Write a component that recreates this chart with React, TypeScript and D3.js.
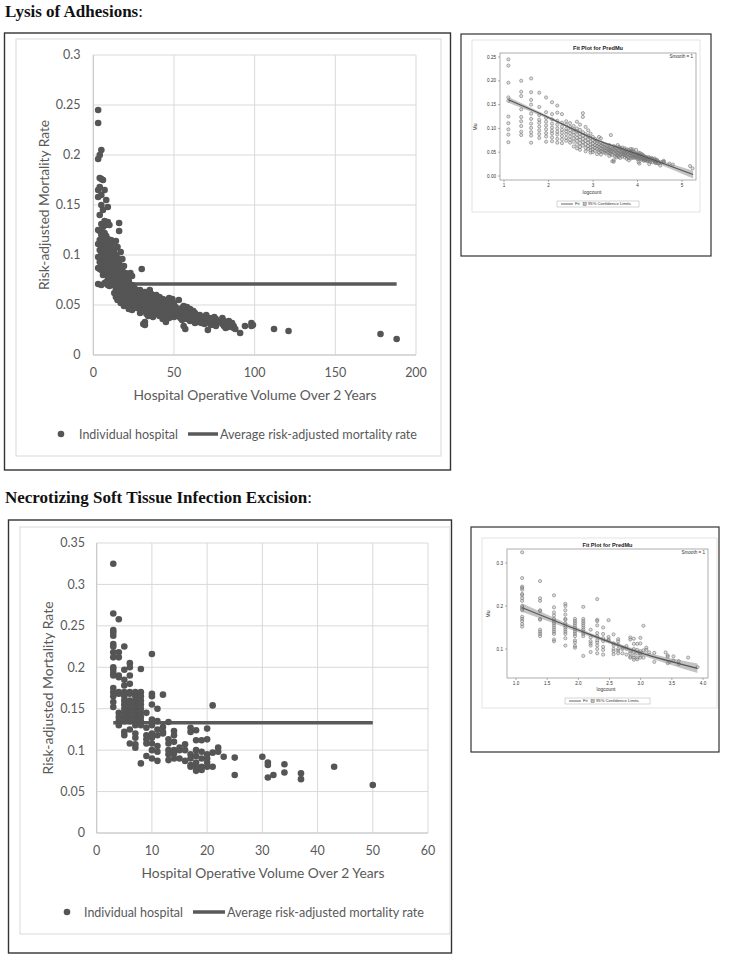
import React from 'react';
import * as d3 from 'd3';

// ---------- DATA ----------
// Lysis of Adhesions: [hospital volume, risk-adjusted mortality rates]
const lysisPoints: [number, number[]][] = [
  [3, [0.245, 0.232, 0.196, 0.165, 0.158, 0.125, 0.111, 0.098, 0.087, 0.071]],
  [4, [0.2, 0.177, 0.168, 0.14, 0.124, 0.115, 0.105, 0.093, 0.086]],
  [5, [0.205, 0.176, 0.16, 0.15, 0.131, 0.12, 0.11, 0.101, 0.092, 0.085, 0.07]],
  [6, [0.175, 0.145, 0.128, 0.118, 0.112, 0.104, 0.096, 0.088, 0.08]],
  [7, [0.165, 0.134, 0.122, 0.114, 0.106, 0.098, 0.09, 0.083, 0.072]],
  [8, [0.155, 0.13, 0.119, 0.11, 0.102, 0.095, 0.089, 0.081, 0.073]],
  [9, [0.148, 0.133, 0.116, 0.108, 0.1, 0.093, 0.087, 0.078, 0.07]],
  [10, [0.13, 0.112, 0.104, 0.097, 0.091, 0.084, 0.077, 0.069]],
  [11, [0.115, 0.108, 0.099, 0.094, 0.088, 0.08, 0.074]],
  [12, [0.111, 0.103, 0.096, 0.09, 0.083, 0.076, 0.07]],
  [13, [0.105, 0.098, 0.092, 0.086, 0.079, 0.072, 0.062]],
  [14, [0.114, 0.1, 0.094, 0.087, 0.08, 0.074, 0.066, 0.058]],
  [15, [0.108, 0.097, 0.089, 0.082, 0.076, 0.069, 0.061, 0.055]],
  [16, [0.132, 0.124, 0.092, 0.085, 0.078, 0.071, 0.064]],
  [17, [0.103, 0.088, 0.081, 0.074, 0.067, 0.059, 0.052]],
  [18, [0.096, 0.084, 0.077, 0.07, 0.063, 0.057]],
  [19, [0.089, 0.08, 0.073, 0.066, 0.06, 0.054, 0.049]],
  [20, [0.082, 0.075, 0.068, 0.062, 0.056, 0.05]],
  [21, [0.078, 0.072, 0.065, 0.059, 0.053]],
  [22, [0.074, 0.069, 0.063, 0.057, 0.046]],
  [23, [0.082, 0.067, 0.061, 0.055, 0.05]],
  [24, [0.079, 0.07, 0.064, 0.058, 0.052, 0.045]],
  [25, [0.068, 0.062, 0.057, 0.051]],
  [26, [0.066, 0.06, 0.054, 0.049]],
  [27, [0.064, 0.058, 0.053, 0.047]],
  [28, [0.062, 0.056, 0.05]],
  [29, [0.065, 0.059, 0.054, 0.048, 0.042]],
  [30, [0.086, 0.061, 0.055, 0.051, 0.046]],
  [31, [0.058, 0.052, 0.044, 0.031]],
  [32, [0.063, 0.056, 0.05, 0.033, 0.03]],
  [33, [0.06, 0.054, 0.047, 0.041]],
  [34, [0.058, 0.052, 0.045, 0.039]],
  [35, [0.065, 0.055, 0.049, 0.043]],
  [36, [0.061, 0.053, 0.047, 0.04]],
  [37, [0.059, 0.051, 0.044, 0.038]],
  [38, [0.057, 0.05, 0.046]],
  [39, [0.06, 0.053, 0.047, 0.041]],
  [40, [0.055, 0.049, 0.044]],
  [41, [0.058, 0.051, 0.045, 0.039]],
  [42, [0.054, 0.048, 0.043]],
  [43, [0.056, 0.05, 0.042, 0.036]],
  [44, [0.052, 0.046, 0.04]],
  [45, [0.055, 0.048, 0.038, 0.033]],
  [46, [0.051, 0.045]],
  [47, [0.057, 0.049, 0.043, 0.037]],
  [48, [0.053, 0.047, 0.041]],
  [49, [0.056, 0.05, 0.044, 0.039]],
  [50, [0.052, 0.045, 0.038]],
  [51, [0.048, 0.041]],
  [52, [0.044, 0.039]],
  [53, [0.055, 0.046, 0.04]],
  [54, [0.043, 0.037]],
  [55, [0.047, 0.041, 0.035]],
  [56, [0.049, 0.044, 0.038, 0.029]],
  [57, [0.045, 0.04, 0.026]],
  [58, [0.048, 0.042, 0.036]],
  [59, [0.043, 0.037]],
  [60, [0.046, 0.04, 0.034]],
  [61, [0.041, 0.036]],
  [62, [0.044, 0.038]],
  [63, [0.042, 0.035, 0.032]],
  [64, [0.039, 0.034]],
  [65, [0.037, 0.033]],
  [66, [0.04, 0.035]],
  [67, [0.036, 0.032]],
  [68, [0.038, 0.034]],
  [69, [0.035, 0.031]],
  [70, [0.04, 0.036]],
  [71, [0.034, 0.025]],
  [72, [0.037, 0.032]],
  [73, [0.035, 0.03]],
  [75, [0.038, 0.034]],
  [76, [0.036, 0.029]],
  [78, [0.033]],
  [80, [0.037, 0.031]],
  [81, [0.034, 0.029]],
  [82, [0.033, 0.027]],
  [83, [0.031]],
  [84, [0.034, 0.028]],
  [86, [0.032]],
  [87, [0.029, 0.027]],
  [88, [0.026]],
  [91, [0.022]],
  [94, [0.029]],
  [98, [0.032, 0.029]],
  [99, [0.03]],
  [112, [0.026]],
  [121, [0.024]],
  [178, [0.021]],
  [188, [0.016]],
];
const lysisAverage = 0.071;
const lysisAverageSpan = [3, 188];
const lysisXTicks = [0, 50, 100, 150, 200];
const lysisYTicks = [0, 0.05, 0.1, 0.15, 0.2, 0.25, 0.3];

// Necrotizing Soft Tissue Infection Excision
const nstiPoints: [number, number[]][] = [
  [3, [0.325, 0.265, 0.245, 0.242, 0.238, 0.228, 0.225, 0.218, 0.212, 0.2, 0.197, 0.193, 0.19, 0.175, 0.17, 0.165, 0.158, 0.152]],
  [4, [0.258, 0.218, 0.212, 0.19, 0.188, 0.17, 0.168, 0.145, 0.14, 0.135, 0.13]],
  [5, [0.225, 0.197, 0.185, 0.178, 0.17, 0.165, 0.16, 0.155, 0.15, 0.145, 0.14, 0.135, 0.122, 0.118]],
  [6, [0.205, 0.2, 0.19, 0.18, 0.17, 0.168, 0.16, 0.155, 0.15, 0.145, 0.14, 0.135, 0.125, 0.108]],
  [7, [0.17, 0.165, 0.16, 0.155, 0.15, 0.145, 0.14, 0.135, 0.13, 0.12, 0.115, 0.107, 0.103]],
  [8, [0.198, 0.17, 0.165, 0.16, 0.155, 0.15, 0.145, 0.14, 0.135, 0.13, 0.084]],
  [9, [0.145, 0.127, 0.118, 0.113, 0.108, 0.093]],
  [10, [0.216, 0.168, 0.165, 0.155, 0.137, 0.13, 0.12, 0.115, 0.108, 0.1, 0.09]],
  [11, [0.15, 0.135, 0.125, 0.118, 0.105, 0.098, 0.087]],
  [12, [0.167, 0.128, 0.122, 0.12]],
  [13, [0.134, 0.113, 0.108, 0.1, 0.095, 0.088]],
  [14, [0.123, 0.118, 0.11, 0.1, 0.096, 0.09]],
  [15, [0.103, 0.1, 0.09]],
  [16, [0.107, 0.1, 0.087]],
  [17, [0.127, 0.122, 0.095, 0.09, 0.082, 0.08]],
  [18, [0.124, 0.112, 0.1, 0.093, 0.085, 0.08, 0.075]],
  [19, [0.112, 0.098, 0.09, 0.08, 0.076]],
  [20, [0.126, 0.113, 0.095, 0.09, 0.085, 0.08]],
  [21, [0.154, 0.097, 0.08]],
  [22, [0.103, 0.098]],
  [23, [0.092]],
  [25, [0.091, 0.07]],
  [30, [0.092]],
  [31, [0.085, 0.082, 0.067]],
  [32, [0.07]],
  [34, [0.083, 0.073]],
  [37, [0.072, 0.065]],
  [43, [0.08]],
  [50, [0.058]],
];
const nstiAverage = 0.133;
const nstiAverageSpan = [3, 50];
const nstiXTicks = [0, 10, 20, 30, 40, 50, 60];
const nstiYTicks = [0, 0.05, 0.1, 0.15, 0.2, 0.25, 0.3, 0.35];

// Inset fit plots (x = log of volume): [logcount, fit, half-width of 95% band]
const lysisFit: [number, number, number][] = [
  [1.1, 0.16, 0.006], [2, 0.123, 0.003], [3, 0.079, 0.002], [4, 0.046, 0.003], [5.25, 0.003, 0.008],
];
const lysisInsetXTicks = [1, 2, 3, 4, 5];
const lysisInsetYTicks = [0, 0.05, 0.1, 0.15, 0.2, 0.25];
const nstiFit: [number, number, number][] = [
  [1.1, 0.196, 0.01], [2, 0.144, 0.005], [3, 0.091, 0.005], [3.91, 0.055, 0.011],
];
const nstiInsetXTicks = [1, 1.5, 2, 2.5, 3, 3.5, 4];
const nstiInsetYTicks = [0.1, 0.2, 0.3];

// ---------- COMPONENTS ----------
const FONT = 'Lato, "Open Sans", sans-serif';
const SERIF = '"Liberation Serif", "Times New Roman", serif';
const TXT = '#595959';

function flatten(points: [number, number[]][]) {
  return points.flatMap(([v, rs]) => rs.map((r) => ({ v, r })));
}

type MainProps = {
  points: [number, number[]][];
  avg: number;
  avgSpan: number[];
  xTicks: number[];
  yTicks: number[];
  plot: { l: number; r: number; t: number; b: number };
  yLabelRight: number;
  xLabelY: number;
  xTitle: [number, number];
  yTitle: [number, number, number];
  legend: { y: number; dot: number; t1: number; l1: number; l2: number; t2: number };
};

function MainChart(p: MainProps) {
  const x = d3.scaleLinear().domain([p.xTicks[0], p.xTicks[p.xTicks.length - 1]]).range([p.plot.l, p.plot.r]);
  const y = d3.scaleLinear().domain([p.yTicks[0], p.yTicks[p.yTicks.length - 1]]).range([p.plot.b, p.plot.t]);
  const data = flatten(p.points);
  const fmt = (d: number) => String(+d.toFixed(2));
  return (
    <g>
      {p.yTicks.map((t) => (
        <line key={'gy' + t} x1={p.plot.l} x2={p.plot.r} y1={y(t)} y2={y(t)} stroke="#d9d9d9" strokeWidth={1} />
      ))}
      {p.xTicks.map((t) => (
        <line key={'gx' + t} x1={x(t)} x2={x(t)} y1={p.plot.t} y2={p.plot.b} stroke="#d9d9d9" strokeWidth={1} />
      ))}
      <line x1={p.plot.l} x2={p.plot.r} y1={p.plot.b} y2={p.plot.b} stroke="#c6c6c6" strokeWidth={1} />
      <line x1={p.plot.l} x2={p.plot.l} y1={p.plot.t} y2={p.plot.b} stroke="#c6c6c6" strokeWidth={1} />
      {p.yTicks.map((t) => (
        <text key={'ly' + t} x={p.yLabelRight} y={y(t)} dy="0.35em" textAnchor="end" fontSize={12.5} fill={TXT} fontFamily={FONT}>
          {fmt(t)}
        </text>
      ))}
      {p.xTicks.map((t) => (
        <text key={'lx' + t} x={x(t)} y={p.xLabelY} dy="0.35em" textAnchor="middle" fontSize={12.5} fill={TXT} fontFamily={FONT}>
          {fmt(t)}
        </text>
      ))}
      <line x1={x(p.avgSpan[0])} x2={x(p.avgSpan[1])} y1={y(p.avg)} y2={y(p.avg)} stroke="#595959" strokeWidth={3.5} />
      {data.map((d, i) => (
        <circle key={i} cx={x(d.v)} cy={y(d.r)} r={3.3} fill="#555555" />
      ))}
      <text x={p.xTitle[0]} y={p.xTitle[1]} dy="0.35em" textAnchor="middle" fontSize={14} fill={TXT} fontFamily={FONT} textLength={243} lengthAdjust="spacingAndGlyphs">
        Hospital Operative Volume Over 2 Years
      </text>
      <text transform={`translate(${p.yTitle[0]},${p.yTitle[1]}) rotate(-90)`} dy="0.35em" textAnchor="middle" fontSize={14} fill={TXT} fontFamily={FONT} textLength={p.yTitle[2]} lengthAdjust="spacingAndGlyphs">
        Risk-adjusted Mortality Rate
      </text>
      <circle cx={p.legend.dot} cy={p.legend.y} r={3.3} fill="#555555" />
      <text x={p.legend.t1} y={p.legend.y} dy="0.35em" fontSize={13} fill={TXT} fontFamily={FONT} textLength={99} lengthAdjust="spacingAndGlyphs">
        Individual hospital
      </text>
      <line x1={p.legend.l1} x2={p.legend.l2} y1={p.legend.y} y2={p.legend.y} stroke="#595959" strokeWidth={3.5} />
      <text x={p.legend.t2} y={p.legend.y} dy="0.35em" fontSize={13} fill={TXT} fontFamily={FONT} textLength={197} lengthAdjust="spacingAndGlyphs">
        Average risk-adjusted mortality rate
      </text>
    </g>
  );
}

type InsetProps = {
  points: [number, number[]][];
  fit: [number, number, number][];
  xTicks: number[];
  yTicks: number[];
  xFmt: (d: number) => string;
  yFmt: (d: number) => string;
  plot: { l: number; r: number; t: number; b: number };
  xTickPx: [number, number];
  yTickPx: [number, number];
  titleY: number;
  xLabel: [number, number];
  yLabel: [number, number];
  legend: { x1: number; x2: number; y: number };
};

function Inset(p: InsetProps) {
  const x = d3.scaleLinear().domain([p.xTicks[0], p.xTicks[p.xTicks.length - 1]]).range(p.xTickPx);
  const y = d3.scaleLinear().domain([p.yTicks[0], p.yTicks[p.yTicks.length - 1]]).range(p.yTickPx);
  const data = flatten(p.points);
  const band = d3
    .area<[number, number, number]>()
    .x((d) => x(d[0]))
    .y0((d) => y(d[1] - d[2]))
    .y1((d) => y(d[1] + d[2]))
    .curve(d3.curveMonotoneX);
  const fitLine = d3
    .line<[number, number, number]>()
    .x((d) => x(d[0]))
    .y((d) => y(d[1]))
    .curve(d3.curveMonotoneX);
  const cx = (p.plot.l + p.plot.r) / 2;
  const fs = 4.6;
  return (
    <g fontFamily='"Liberation Sans", Arial, sans-serif'>
      <text x={cx} y={p.titleY} textAnchor="middle" fontSize={5.6} fontWeight="bold" fill="#222">
        Fit Plot for PredMu
      </text>
      <rect x={p.plot.l} y={p.plot.t} width={p.plot.r - p.plot.l} height={p.plot.b - p.plot.t} fill="white" stroke="#8a8a8a" strokeWidth={0.7} />
      <text x={p.plot.r - 3} y={p.plot.t + 5} textAnchor="end" fontSize={fs} fill="#333">
        Smooth = 1
      </text>
      <path d={band(p.fit) || ''} fill="#b8b8b8" opacity={0.85} />
      {data.map((d, i) => (
        <circle key={i} cx={x(Math.log(d.v))} cy={y(d.r)} r={1.6} fill="rgba(160,160,160,0.35)" stroke="#6e6e6e" strokeWidth={0.55} />
      ))}
      <path d={fitLine(p.fit) || ''} fill="none" stroke="#555" strokeWidth={1.1} />
      {p.xTicks.map((t) => (
        <g key={'x' + t}>
          <line x1={x(t)} x2={x(t)} y1={p.plot.b} y2={p.plot.b + 2} stroke="#666" strokeWidth={0.5} />
          <text x={x(t)} y={p.plot.b + 7} textAnchor="middle" fontSize={fs} fill="#333">
            {p.xFmt(t)}
          </text>
        </g>
      ))}
      {p.yTicks.map((t) => (
        <g key={'y' + t}>
          <line x1={p.plot.l - 2} x2={p.plot.l} y1={y(t)} y2={y(t)} stroke="#666" strokeWidth={0.5} />
          <text x={p.plot.l - 4} y={y(t)} dy="0.35em" textAnchor="end" fontSize={fs} fill="#333">
            {p.yFmt(t)}
          </text>
        </g>
      ))}
      <text x={p.xLabel[0]} y={p.xLabel[1]} textAnchor="middle" fontSize={5} fill="#333">
        logcount
      </text>
      <text transform={`translate(${p.yLabel[0]},${p.yLabel[1]}) rotate(-90)`} textAnchor="middle" fontSize={5} fill="#333">
        Mu
      </text>
      <rect x={p.legend.x1} y={p.legend.y - 3} width={p.legend.x2 - p.legend.x1} height={6} fill="white" stroke="#aaa" strokeWidth={0.5} />
      <line x1={p.legend.x1 + 4} x2={p.legend.x1 + 16} y1={p.legend.y} y2={p.legend.y} stroke="#555" strokeWidth={0.9} />
      <text x={p.legend.x1 + 18} y={p.legend.y} dy="0.35em" fontSize={4.2} fill="#333">
        Fit
      </text>
      <rect x={p.legend.x1 + 26} y={p.legend.y - 1.6} width={3.2} height={3.2} fill="#bbb" stroke="#666" strokeWidth={0.4} />
      <text x={p.legend.x1 + 31} y={p.legend.y} dy="0.35em" fontSize={4.2} fill="#333">
        95% Confidence Limits
      </text>
    </g>
  );
}

export default function App() {
  return (
    <svg width={729} height={960} style={{ position: 'absolute', left: 0, top: 0, background: 'white' }}>
      <rect x={0} y={0} width={729} height={960} fill="white" />
      {/* Section titles */}
      <text x={5} y={17} fontFamily={SERIF} fontSize={17} fill="#111">
        <tspan fontWeight="bold">Lysis of Adhesions</tspan>
        <tspan>:</tspan>
      </text>
      <text x={5} y={503} fontFamily={SERIF} fontSize={17} fill="#111">
        <tspan fontWeight="bold">Necrotizing Soft Tissue Infection Excision</tspan>
        <tspan>:</tspan>
      </text>

      {/* Top main chart */}
      <rect x={4.5} y={33} width={446} height={437} fill="white" stroke="#333" strokeWidth={1.4} />
      <rect x={16} y={39} width={425} height={417} fill="white" stroke="#d9d9d9" strokeWidth={1} />
      <MainChart
        points={lysisPoints}
        avg={lysisAverage}
        avgSpan={lysisAverageSpan}
        xTicks={lysisXTicks}
        yTicks={lysisYTicks}
        plot={{ l: 93.3, r: 416, t: 55, b: 355 }}
        yLabelRight={80.5}
        xLabelY={373}
        xTitle={[255, 395]}
        yTitle={[44, 205, 170]}
        legend={{ y: 434, dot: 61, t1: 79, l1: 188, l2: 218, t2: 220 }}
      />

      {/* Top inset */}
      <rect x={461} y={34} width={250} height={222} fill="white" stroke="#333" strokeWidth={1.2} />
      <rect x={472} y={40} width={228} height={172} fill="white" stroke="#dcdcdc" strokeWidth={0.8} />
      <Inset
        points={lysisPoints}
        fit={lysisFit}
        xTicks={lysisInsetXTicks}
        yTicks={lysisInsetYTicks}
        xFmt={(d) => String(d)}
        yFmt={(d) => d.toFixed(2)}
        plot={{ l: 500, r: 696, t: 53, b: 180 }}
        xTickPx={[504, 682]}
        yTickPx={[176, 57]}
        titleY={50}
        xLabel={[592, 194]}
        yLabel={[477, 127]}
        legend={{ x1: 557, x2: 639, y: 204 }}
      />

      {/* Bottom main chart */}
      <rect x={8.5} y={520} width={443} height={433} fill="white" stroke="#333" strokeWidth={1.4} />
      <rect x={20} y={527} width={430} height={407} fill="white" stroke="#d9d9d9" strokeWidth={1} />
      <MainChart
        points={nstiPoints}
        avg={nstiAverage}
        avgSpan={nstiAverageSpan}
        xTicks={nstiXTicks}
        yTicks={nstiYTicks}
        plot={{ l: 96.7, r: 428, t: 543, b: 833 }}
        yLabelRight={85}
        xLabelY={851}
        xTitle={[263, 873]}
        yTitle={[48, 688, 173]}
        legend={{ y: 912, dot: 67, t1: 84, l1: 193, l2: 225, t2: 227 }}
      />

      {/* Bottom inset */}
      <rect x={471} y={527} width={248} height={225} fill="white" stroke="#333" strokeWidth={1.2} />
      <rect x={482} y={538} width={235} height={170} fill="white" stroke="#dcdcdc" strokeWidth={0.8} />
      <Inset
        points={nstiPoints}
        fit={nstiFit}
        xTicks={nstiInsetXTicks}
        yTicks={nstiInsetYTicks}
        xFmt={(d) => d.toFixed(1)}
        yFmt={(d) => String(d)}
        plot={{ l: 507, r: 708, t: 549, b: 678 }}
        xTickPx={[516, 703]}
        yTickPx={[649, 563]}
        titleY={547}
        xLabel={[606, 691]}
        yLabel={[490, 614]}
        legend={{ x1: 565, x2: 650, y: 701 }}
      />
    </svg>
  );
}
